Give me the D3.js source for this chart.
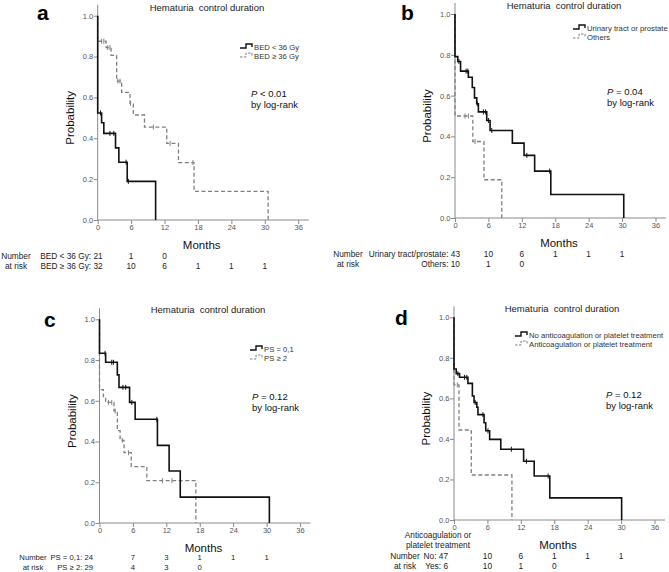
<!DOCTYPE html>
<html>
<head>
<meta charset="utf-8">
<script src="https://cdn.jsdelivr.net/npm/d3@7"></script>
<style>
  body { margin: 0; background: #fff; }
  svg { display: block; font-family: "Liberation Sans", Arial, sans-serif; }
</style>
</head>
<body>
<div id="chart"></div>
<script>
// ---- shared ticks / text
const monthTicks = [0, 6, 12, 18, 24, 30, 36];
const probTicks = [0, 0.2, 0.4, 0.6, 0.8, 1.0];
const panelTitle = "Hematuria  control duration";

// ---- panel a: BED
const aLowT = [0, 0.7, 1.1, 3.2, 3.8, 5.3, 10.4];
const aLowS = [0.524, 0.476, 0.424, 0.353, 0.283, 0.189, 0];
const aLowC = [0.5, 2.2, 2.9, 5.1, 5.5];
const aHighT = [0, 1.5, 2.4, 3.4, 4.3, 5.8, 6.4, 8.4, 12.4, 14.5, 17.3, 30.6];
const aHighS = [0.875, 0.844, 0.806, 0.68, 0.625, 0.571, 0.514, 0.455, 0.375, 0.281, 0.14, 0];
const aHighC = [0.7, 1.1, 1.8, 2.2, 3.6, 4.0, 5.9, 10.0, 13.0, 17.1];
const aNames = ["BED < 36 Gy", "BED \u2265 36 Gy"];
const aRiskLow = [21, 1, 0];
const aRiskHigh = [32, 10, 6, 1, 1, 1];
const aP = "< 0.01";

// ---- panel b: site
const bUrT = [0, 0.5, 1.0, 2.4, 3.1, 3.5, 3.9, 4.2, 5.7, 6.3, 10.3, 12.4, 14.3, 17.2, 30.3];
const bUrS = [0.791, 0.767, 0.72, 0.69, 0.64, 0.589, 0.56, 0.52, 0.478, 0.429, 0.367, 0.307, 0.23, 0.115, 0];
const bUrC = [0.7, 2.0, 2.3, 4.0, 5.1, 5.5, 6.0, 6.6, 12.9, 17.0];
const bOtT = [0, 3.2, 5.2, 8.4];
const bOtS = [0.5, 0.375, 0.1875, 0];
const bOtC = [1.8, 2.4, 3.6];
const bLegend = ["Urinary tract or prostate", "Others"];
const bNames = ["Urinary tract/prostate", "Others"];
const bRiskUr = [43, 10, 6, 1, 1, 1];
const bRiskOt = [10, 1, 0];
const bP = "= 0.04";

// ---- panel c: PS
const cPs01T = [0, 1.1, 3.2, 3.5, 5.4, 6.4, 10.4, 12.5, 14.5, 30.5];
const cPs01S = [0.833, 0.789, 0.727, 0.666, 0.592, 0.509, 0.381, 0.255, 0.127, 0];
const cPs01C = [1.0, 2.2, 2.5, 4.2, 4.7, 5.8, 10.3];
const cPs2T = [0, 0.7, 1.1, 2.6, 3.2, 3.7, 4.4, 5.7, 8.5, 17.3];
const cPs2S = [0.655, 0.62, 0.592, 0.55, 0.453, 0.406, 0.345, 0.277, 0.208, 0];
const cPs2C = [1.6, 2.2, 2.8, 4.1, 5.2, 11.3, 13.0];
const cNames = ["PS = 0,1", "PS \u2265 2"];
const cRisk01 = [24, 7, 3, 1, 1, 1];
const cRisk2 = [29, 4, 3, 0];
const cP = "= 0.12";

// ---- panel d: anticoagulation
const dNoT = [0, 0.4, 1.0, 2.5, 3.3, 3.6, 4.1, 4.3, 5.4, 5.7, 6.4, 8.4, 12.5, 14.4, 17.2, 30.1];
const dNoS = [0.745, 0.722, 0.704, 0.674, 0.612, 0.58, 0.556, 0.52, 0.48, 0.44, 0.398, 0.349, 0.29, 0.217, 0.109, 0];
const dNoC = [0.7, 1.9, 2.3, 3.8, 5.2, 6.1, 10.3, 13.0, 16.9];
const dYesT = [0, 0.9, 3.1, 10.4];
const dYesS = [0.667, 0.444, 0.222, 0];
const dYesC = [0.6];
const dLegend = ["No anticoagulation or platelet treatment", "Anticoagulation or platelet treatment"];
const dNames = ["No", "Yes"];
const dHeader = ["Anticoagulation or", "platelet treatment"];
const dRiskNo = [47, 10, 6, 1, 1, 1];
const dRiskYes = [6, 10, 1, 0];
const dP = "= 0.12";

const panels = [
  { letter: "a", p: aP, legend: aNames, names: aNames, header: null,
    series: [{ t: aLowT, s: aLowS, c: aLowC, risk: aRiskLow },
             { t: aHighT, s: aHighS, c: aHighC, risk: aRiskHigh }] },
  { letter: "b", p: bP, legend: bLegend, names: bNames, header: null,
    series: [{ t: bUrT, s: bUrS, c: bUrC, risk: bRiskUr },
             { t: bOtT, s: bOtS, c: bOtC, risk: bRiskOt }] },
  { letter: "c", p: cP, legend: cNames, names: cNames, header: null,
    series: [{ t: cPs01T, s: cPs01S, c: cPs01C, risk: cRisk01 },
             { t: cPs2T, s: cPs2S, c: cPs2C, risk: cRisk2 }] },
  { letter: "d", p: dP, legend: dLegend, names: dNames, header: dHeader,
    series: [{ t: dNoT, s: dNoS, c: dNoC, risk: dRiskNo },
             { t: dYesT, s: dYesS, c: dYesC, risk: dRiskYes }] }
];

// where each panel sits on the page
const layout = [
  { x0: 97.7, yTop: 15.7, yBot: 220, letter: [37, 20], title: 207, titleY: 11, leg: [240, 47], pTxt: [251, 97], riskEnd: 5, riskY: 38.5, numX: 16, riskFs: "8.3px" },
  { x0: 455, yTop: 14, yBot: 218, letter: [401, 20], title: 564, titleY: 9, leg: [573, 28], pTxt: [607, 95], riskEnd: 5, riskY: 38.5, numX: 348, riskFs: "8.3px" },
  { x0: 99.5, yTop: 319.3, yBot: 523, letter: [44, 327], title: 208, titleY: 313, leg: [250, 349], pTxt: [252, 400], riskEnd: -6.5, riskY: 37, numX: 33, riskFs: "7.7px" },
  { x0: 454, yTop: 317.3, yBot: 520, letter: [395, 325], title: 562, titleY: 312, leg: [515, 335], pTxt: [606, 398], riskEnd: -6, riskY: 38.5, numX: 405, riskFs: "8.3px" }
];

const W = 669, H = 572;
const svg = d3.select("#chart").append("svg").attr("width", W).attr("height", H);

const styles = [
  { stroke: "#111", width: 1.6, dash: null },
  { stroke: "#808080", width: 1.3, dash: "4,2.5" }
];
const axisColor = "#8a8a8a";
const tickText = "#555";

function survAt(t, s, time) {
  let v = 1;
  for (let i = 0; i < t.length; i++) if (t[i] <= time) v = s[i];
  return v;
}

panels.forEach((p, k) => {
  const L = layout[k];
  const x = d3.scaleLinear().domain([0, 36]).range([L.x0, L.x0 + 200.5]);
  const y = d3.scaleLinear().domain([0, 1]).range([L.yBot, L.yTop]);
  const g = svg.append("g");

  // axes
  const ax = g.append("g").attr("transform", `translate(0,${L.yBot})`)
    .call(d3.axisBottom(x).tickValues(monthTicks).tickSize(4).tickSizeOuter(0).tickFormat(d3.format("d")));
  const ay = g.append("g").attr("transform", `translate(${L.x0},0)`)
    .call(d3.axisLeft(y).tickValues(probTicks).tickSize(4).tickSizeOuter(0).tickFormat(d3.format(".1f")));
  [ax, ay].forEach(a => {
    a.select(".domain").remove();
    a.selectAll(".tick line").attr("stroke", axisColor);
    a.selectAll(".tick text").attr("fill", tickText).style("font-size", "7.5px")
      .style("font-family", '"Liberation Sans", Arial, sans-serif');
  });
  ax.selectAll(".tick text").attr("dy", "0.6em").attr("y", 5);
  ay.selectAll(".tick text").attr("x", -4.5);
  g.append("line").attr("x1", L.x0).attr("x2", L.x0).attr("y1", L.yTop - 11).attr("y2", L.yBot)
    .attr("stroke", axisColor);
  g.append("line").attr("x1", L.x0).attr("x2", L.x0 + 211).attr("y1", L.yBot).attr("y2", L.yBot)
    .attr("stroke", axisColor);

  // curves (dashed drawn first, solid on top)
  const line = d3.line().x(d => x(d[0])).y(d => y(d[1])).curve(d3.curveStepAfter);
  [1, 0].forEach(i => {
    const sr = p.series[i], st = styles[i];
    const pts = [[0, 1]].concat(sr.t.map((tt, j) => [tt, sr.s[j]]));
    g.append("path").attr("d", line(pts)).attr("fill", "none")
      .attr("stroke", st.stroke).attr("stroke-width", st.width)
      .attr("stroke-dasharray", st.dash);
    g.selectAll(null).data(sr.c).enter().append("line")
      .attr("x1", d => x(d)).attr("x2", d => x(d))
      .attr("y1", d => y(survAt(sr.t, sr.s, d)) - 2.5)
      .attr("y2", d => y(survAt(sr.t, sr.s, d)) + 2.5)
      .attr("stroke", st.stroke).attr("stroke-width", 1);
  });

  // letter and title
  g.append("text").attr("x", L.letter[0]).attr("y", L.letter[1]).text(p.letter)
    .style("font-size", "21px").style("font-weight", "bold").attr("fill", "#000");
  g.append("text").attr("x", L.title).attr("y", L.titleY).attr("text-anchor", "middle")
    .style("font-size", "9.5px").attr("fill", "#222").attr("xml:space", "preserve").text(panelTitle);

  // legend
  p.legend.forEach((name, i) => {
    const lx = L.leg[0], ly = L.leg[1] + i * 9;
    g.append("path").attr("d", `M${lx},${ly + 1} H${lx + 6} V${ly - 3} H${lx + 12} V${ly}`)
      .attr("fill", "none").attr("stroke", styles[i].stroke)
      .attr("stroke-width", i ? 1 : 1.4).attr("stroke-dasharray", i ? "2.5,1.5" : null);
    g.append("text").attr("x", lx + 14).attr("y", ly + 2.5).text(name)
      .style("font-size", "7.7px").attr("fill", "#333");
  });

  // log-rank
  const pt = g.append("text").attr("x", L.pTxt[0]).attr("y", L.pTxt[1])
    .style("font-size", "9.5px").attr("fill", "#111");
  pt.append("tspan").style("font-style", "italic").text("P");
  pt.append("tspan").text(" " + p.p);
  g.append("text").attr("x", L.pTxt[0]).attr("y", L.pTxt[1] + 11)
    .style("font-size", "9.5px").attr("fill", "#111").text("by log-rank");

  // axis titles
  g.append("text").attr("transform", `translate(${L.x0 - 24},${(L.yTop + L.yBot) / 2}) rotate(-90)`)
    .attr("text-anchor", "middle").style("font-size", "11.5px").attr("fill", "#111").text("Probability");
  g.append("text").attr("x", L.x0 + 104).attr("y", L.yBot + 28.5).attr("text-anchor", "middle")
    .style("font-size", "11.5px").attr("fill", "#111").text("Months");

  // number at risk
  const fs = L.riskFs;
  const r0 = L.yBot + L.riskY;
  if (p.header) {
    p.header.forEach((h, i) => {
      g.append("text").attr("x", L.x0 - 16).attr("y", L.yBot + 18 + i * 10)
        .attr("text-anchor", "middle").style("font-size", fs).attr("fill", "#222").text(h);
    });
  }
  ["Number", "at risk"].forEach((h, i) => {
    g.append("text").attr("x", L.numX).attr("y", r0 + i * 10.3).attr("text-anchor", "middle")
      .style("font-size", fs).attr("fill", "#222").text(h);
  });
  p.series.forEach((sr, i) => {
    const ry = r0 + i * 10.3;
    g.append("text").attr("x", L.x0 + L.riskEnd).attr("y", ry).attr("text-anchor", "end")
      .style("font-size", fs).attr("fill", "#222")
      .text(p.names[i] + ": " + sr.risk[0]);
    g.selectAll(null).data(sr.risk.slice(1)).enter().append("text")
      .attr("x", (d, j) => x(monthTicks[j + 1])).attr("y", ry).attr("text-anchor", "middle")
      .style("font-size", fs).attr("fill", "#222").text(d => d);
  });
});
</script>
</body>
</html>
